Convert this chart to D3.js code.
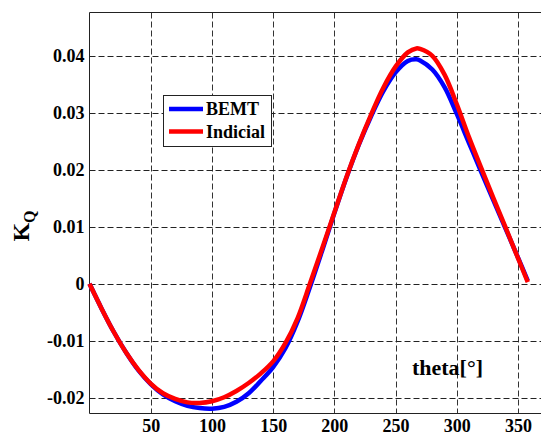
<!DOCTYPE html>
<html><head><meta charset="utf-8">
<script src="https://cdn.jsdelivr.net/npm/d3@7"></script>
<style>body{margin:0;background:#fff}svg{display:block}</style>
</head><body>
<script>
const theta = [0,10,20,30,40,50,60,70,80,90,100,110,120,130,140,150,160,170,180,190,200,210,220,230,240,250,260,267,270,280,290,300,310,320,330,340,350,358];
const bemt = [0,-0.0044,-0.0085,-0.0121,-0.0152,-0.0176,-0.0194,-0.0206,-0.0214,-0.0218,-0.0219,-0.0216,-0.0207,-0.0192,-0.0170,-0.0146,-0.0113,-0.0066,-0.0006,0.0058,0.0124,0.0187,0.0244,0.0294,0.0338,0.0371,0.0391,0.0394,0.0392,0.0376,0.0345,0.0298,0.0247,0.0196,0.0146,0.0096,0.0046,0.0005];
const indicial = [0,-0.0044,-0.0085,-0.0121,-0.0151,-0.0175,-0.0192,-0.0202,-0.0208,-0.0209,-0.0206,-0.0199,-0.0188,-0.0174,-0.0157,-0.0136,-0.0104,-0.0060,0.0000,0.0062,0.0125,0.0188,0.0245,0.0297,0.0344,0.0381,0.0406,0.0413,0.0412,0.0400,0.0367,0.0315,0.0257,0.0203,0.0150,0.0098,0.0045,0.0003];
const xTicks = [50,100,150,200,250,300,350];
const yTicks = [-0.02,-0.01,0,0.01,0.02,0.03,0.04];
const yTickLabels = ["-0.02","-0.01","0","0.01","0.02","0.03","0.04"];
const seriesNames = ["BEMT","Indicial"];
const seriesColors = ["#0000ff","#ff0000"];

const W = 541, H = 435;
const L = 89.5, T = 12.5, B = 413.5, R = 545;
const svg = d3.select("body").append("svg").attr("width", W).attr("height", H);
const x = d3.scaleLinear().domain([0, (R - L) / 1.2243]).range([L, R]);
const y = d3.scaleLinear().domain([-0.02275, 0.0476]).range([B, T]);
const font = "'Liberation Serif','Times New Roman',serif";

// grid
const g = svg.append("g");
g.selectAll(".vg").data(xTicks).join("line")
  .attr("x1", d => Math.round(x(d)) + 0.5).attr("x2", d => Math.round(x(d)) + 0.5)
  .attr("y1", T).attr("y2", B)
  .attr("stroke", "#333").attr("stroke-width", 1).attr("stroke-dasharray", "6,3");
g.selectAll(".hg").data(yTicks).join("line")
  .attr("y1", d => Math.round(y(d)) + 0.5).attr("y2", d => Math.round(y(d)) + 0.5)
  .attr("x1", L).attr("x2", R)
  .attr("stroke", "#222").attr("stroke-width", 1).attr("stroke-dasharray", "6,3");

// axes box
svg.append("line").attr("x1", L).attr("x2", R).attr("y1", T).attr("y2", T).attr("stroke", "#222");
svg.append("line").attr("x1", L).attr("x2", R).attr("y1", B).attr("y2", B).attr("stroke", "#222");
svg.append("line").attr("x1", L).attr("x2", L).attr("y1", T).attr("y2", B).attr("stroke", "#222");

// axes via d3
const xAxis = d3.axisBottom(x).tickValues(xTicks).tickSize(0).tickPadding(6).tickFormat(d3.format("d"));
const xa = svg.append("g").attr("transform", `translate(0,${B})`).call(xAxis);
xa.select(".domain").remove();
xa.selectAll("text").attr("font-family", font).attr("font-weight", "bold").attr("font-size", 18).attr("fill", "#000");

const yAxis = d3.axisLeft(y).tickValues(yTicks).tickSize(0).tickPadding(5).tickFormat((d, i) => yTickLabels[i]);
const ya = svg.append("g").attr("transform", `translate(${L},0)`).call(yAxis);
ya.select(".domain").remove();
ya.selectAll("text").attr("font-family", font).attr("font-weight", "bold").attr("font-size", 18).attr("fill", "#000");

// lines
const line = d3.line().x((d, i) => x(theta[i])).y(d => y(d)).curve(d3.curveCatmullRom);
[bemt, indicial].forEach((s, k) => {
  svg.append("path").datum(s).attr("d", line).attr("fill", "none")
    .attr("stroke", seriesColors[k]).attr("stroke-width", 4.5).attr("stroke-linecap", "butt");
});

// legend
const lg = svg.append("g");
lg.append("rect").attr("x", 163.5).attr("y", 95.5).attr("width", 108).attr("height", 51)
  .attr("fill", "#fff").attr("stroke", "#222");
seriesNames.forEach((n, k) => {
  const yy = 109 + k * 22.5;
  lg.append("line").attr("x1", 169).attr("x2", 203).attr("y1", yy).attr("y2", yy)
    .attr("stroke", seriesColors[k]).attr("stroke-width", 4.5);
  lg.append("text").attr("x", 206).attr("y", yy + 6).text(n)
    .attr("font-family", font).attr("font-weight", "bold").attr("font-size", 18).attr("fill", "#000");
});

// labels
svg.append("text").attr("x", 412).attr("y", 375).text("theta[°]")
  .attr("font-family", font).attr("font-weight", "bold").attr("font-size", 20).attr("fill", "#000")
  .attr("textLength", 71).attr("lengthAdjust", "spacingAndGlyphs");

const yl = svg.append("text").attr("transform", "translate(29,226) rotate(-90)")
  .attr("font-family", font).attr("font-weight", "bold").attr("font-size", 24).attr("fill", "#000")
  .attr("text-anchor", "middle");
yl.append("tspan").text("K");
yl.append("tspan").text("Q").attr("font-size", 16).attr("dy", 6);
</script>
</body></html>
